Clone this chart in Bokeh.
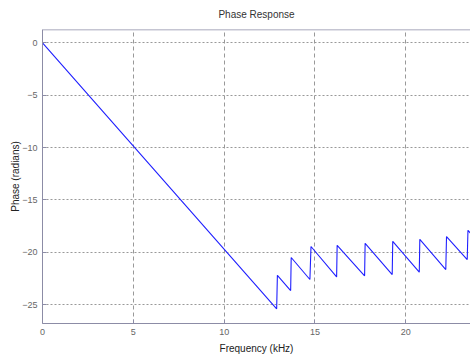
from bokeh.plotting import figure
from bokeh.models import Range1d, FixedTicker, Span
from bokeh.embed import file_html
from bokeh.resources import INLINE

# Data
freq_khz = [0.0, 12.89, 12.93, 13.66, 13.69, 14.72, 14.78, 16.19, 16.22,
            17.73, 17.76, 19.25, 19.28, 20.74, 20.77, 22.20, 22.24, 23.38, 23.42, 23.60]
phase_rad = [0.0, -25.4, -22.2, -23.66, -20.5, -22.6, -19.45, -22.35, -19.33,
             -22.25, -19.14, -22.13, -18.95, -21.9, -18.76, -21.65, -18.5, -20.7, -17.9, -18.26]
x_ticks = [0, 5, 10, 15, 20]
y_ticks = [0, -5, -10, -15, -20, -25]

FONT = "'Liberation Sans', Arial, sans-serif"
FRAME = "#8c8ca6"
Y_TOP = 1.27

p = figure(width=470, height=362, output_backend="svg", toolbar_location=None,
           title="Phase Response",
           x_range=Range1d(0, 23.56), y_range=Range1d(-26.8, Y_TOP),
           min_border_left=42, min_border_right=0, min_border_top=29, min_border_bottom=39)

p.background_fill_color = "white"
p.border_fill_color = "white"
p.outline_line_color = None

p.title.align = "center"
p.title.vertical_align = "top"
p.title.text_font = FONT
p.title.text_font_size = "10px"
p.title.text_font_style = "normal"
p.title.text_color = "#333333"
p.title.standoff = 16

p.line(freq_khz, phase_rad, line_color="#1f1fff", line_width=1.1)

for ax in (p.xaxis[0], p.yaxis[0]):
    ax.axis_line_color = FRAME
    ax.major_tick_line_color = FRAME
    ax.major_tick_in = 4
    ax.major_tick_out = 0
    ax.minor_tick_line_color = None
    ax.major_label_text_font = FONT
    ax.major_label_text_font_size = "9px"
    ax.major_label_text_color = "#666666"
    ax.axis_label_text_font = FONT
    ax.axis_label_text_font_size = "10px"
    ax.axis_label_text_font_style = "normal"
    ax.axis_label_text_color = "#222222"
    ax.major_label_standoff = 5

p.xaxis[0].ticker = FixedTicker(ticks=x_ticks)
p.yaxis[0].ticker = FixedTicker(ticks=y_ticks)
p.xaxis[0].axis_label = "Frequency (kHz)"
p.yaxis[0].axis_label = "Phase (radians)"
p.xaxis[0].axis_label_standoff = 5
p.yaxis[0].axis_label_standoff = -2

# top border of the box
p.add_layout(Span(location=Y_TOP, dimension="width", line_color=FRAME, line_width=1.5))

p.xgrid.ticker = FixedTicker(ticks=x_ticks[1:])
p.ygrid.ticker = FixedTicker(ticks=y_ticks)
p.xgrid.grid_line_color = "#999999"
p.xgrid.grid_line_dash = "4 3"
p.ygrid.grid_line_color = "#999999"
p.ygrid.grid_line_dash = "2 2"

open("out.html", "w").write(file_html(p, INLINE))
